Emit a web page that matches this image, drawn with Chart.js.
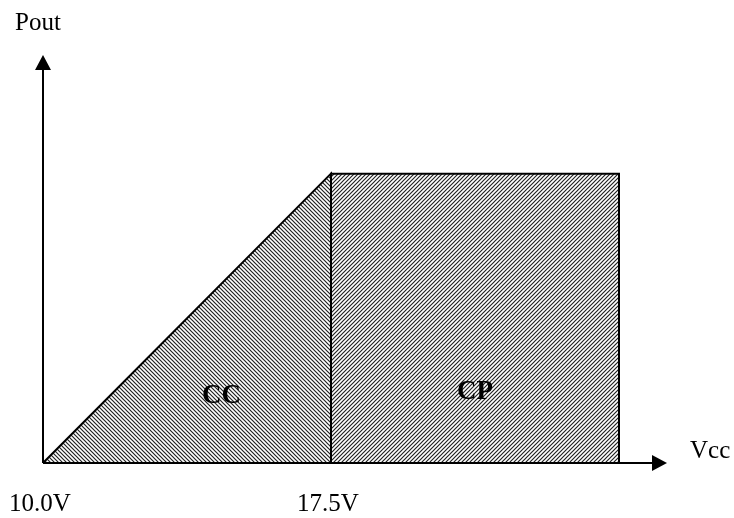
<!DOCTYPE html>
<html>
<head>
<meta charset="utf-8">
<script src="https://cdn.jsdelivr.net/npm/chart.js@4/dist/chart.umd.min.js"></script>
<style>
  html, body { margin: 0; padding: 0; background: #fff; }
  #wrap { width: 734px; height: 518px; }
</style>
</head>
<body>
<div id="wrap"><canvas id="chart" width="734" height="518"></canvas></div>
<script>
// Data (Vcc in volts, Pout in relative units)
const ccVcc = [10.0, 17.5, 17.5];
const ccPout = [0, 100, 0];
const cpVcc = [17.5, 17.5, 25.0, 25.0];
const cpPout = [0, 100, 100, 0];
const tickValues = [10.0, 17.5];
const tickLabels = ["10.0V", "17.5V"];
const regionNames = ["CC", "CP"];
const xTitle = "Vcc";
const yTitle = "Pout";

const ctx = document.querySelector("#chart").getContext("2d");

// hatch patterns
function hatch(dir) {
  let c = document.createElement("canvas");
  c.width = 4;
  c.height = 4;
  let g = c.getContext("2d");
  g.fillStyle = "#fff";
  g.fillRect(0, 0, 4, 4);
  g.strokeStyle = "#222";
  g.lineWidth = 1.2;
  g.beginPath();
  if (dir == "/") {
    g.moveTo(-1, 5); g.lineTo(5, -1);
    g.moveTo(-1, 1); g.lineTo(1, -1);
    g.moveTo(3, 5); g.lineTo(5, 3);
  } else {
    g.moveTo(-1, -1); g.lineTo(5, 5);
    g.moveTo(-1, 3); g.lineTo(1, 5);
    g.moveTo(3, -1); g.lineTo(5, 1);
  }
  g.stroke();
  return ctx.createPattern(c, "repeat");
}

const toPoints = (xs, ys) => xs.map((x, i) => ({ x: x, y: ys[i] }));

// axes with arrows, tick labels, titles, region names
const decor = {
  id: "decor",
  afterDatasetsDraw(chart) {
    const c = chart.ctx;
    const x = chart.scales.x;
    const y = chart.scales.y;
    const x0 = x.getPixelForValue(x.min);
    const y0 = y.getPixelForValue(0);
    const xEnd = x.getPixelForValue(x.max);
    const yEnd = y.getPixelForValue(y.max);

    c.save();
    c.strokeStyle = "#000";
    c.fillStyle = "#000";
    c.lineWidth = 2;
    c.beginPath();
    c.moveTo(x0, y0);
    c.lineTo(xEnd - 10, y0);
    c.moveTo(x0, y0);
    c.lineTo(x0, yEnd + 10);
    c.stroke();

    c.beginPath();
    c.moveTo(xEnd, y0);
    c.lineTo(xEnd - 15, y0 - 8);
    c.lineTo(xEnd - 15, y0 + 8);
    c.closePath();
    c.fill();

    c.beginPath();
    c.moveTo(x0, yEnd);
    c.lineTo(x0 - 8, yEnd + 15);
    c.lineTo(x0 + 8, yEnd + 15);
    c.closePath();
    c.fill();

    c.font = "25px 'Liberation Serif'";
    c.textBaseline = "alphabetic";
    c.textAlign = "center";
    tickValues.forEach((v, i) => {
      c.fillText(tickLabels[i], x.getPixelForValue(v) - 3, y0 + 48);
    });
    c.textAlign = "left";
    c.fillText(xTitle, xEnd + 23, y0 - 5);
    c.fillText(yTitle, x0 - 28, 30);

    c.font = "bold 27px 'Liberation Serif'";
    c.textAlign = "center";
    c.textBaseline = "middle";
    c.fillText(regionNames[0], x.getPixelForValue(14.65), y.getPixelForValue(23));
    c.fillText(regionNames[1], x.getPixelForValue(21.25), y.getPixelForValue(24.5));
    c.restore();
  },
};

new Chart(ctx, {
  type: "line",
  data: {
    datasets: [
      {
        label: "CC",
        data: toPoints(ccVcc, ccPout),
        borderColor: "#000",
        borderWidth: 2,
        backgroundColor: hatch("\\"),
        fill: "origin",
        pointRadius: 0,
        tension: 0,
      },
      {
        label: "CP",
        data: toPoints(cpVcc, cpPout),
        borderColor: "#000",
        borderWidth: 2,
        backgroundColor: hatch("/"),
        fill: "origin",
        pointRadius: 0,
        tension: 0,
      },
    ],
  },
  options: {
    responsive: false,
    animation: false,
    layout: { padding: { left: 43, right: 67, top: 55, bottom: 55 } },
    plugins: { legend: { display: false }, tooltip: { enabled: false } },
    scales: {
      x: { type: "linear", min: 10, max: 26.25, display: false },
      y: { type: "linear", min: 0, max: 141, display: false },
    },
  },
  plugins: [decor],
});
</script>
</body>
</html>
